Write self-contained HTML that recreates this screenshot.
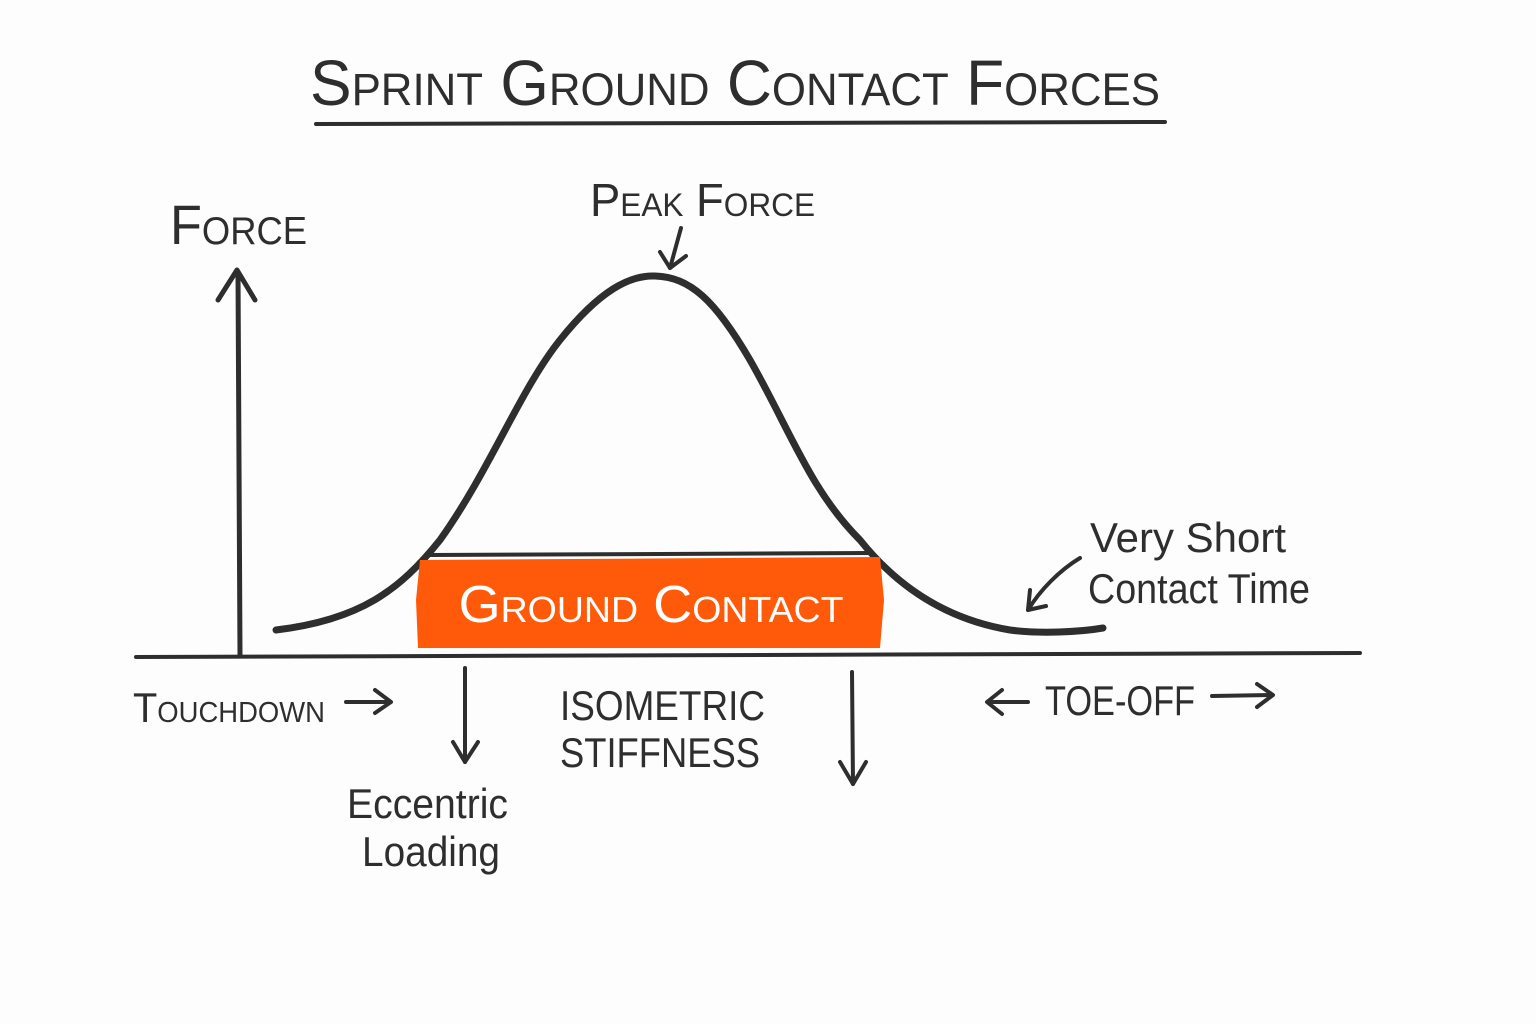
<!DOCTYPE html>
<html><head><meta charset="utf-8"><style>
html,body{margin:0;padding:0;background:#fdfdfd;}
svg{display:block;}
text{font-family:"Liberation Sans",sans-serif;fill:#2e2e2e;}
</style></head><body>
<svg width="1536" height="1024" viewBox="0 0 1536 1024" xmlns="http://www.w3.org/2000/svg">
<rect width="1536" height="1024" fill="#fdfdfd"/>
<g stroke="#2e2e2e" stroke-linecap="round" stroke-linejoin="round" fill="none">
<!-- title underline -->
<path d="M316 124 L1165 122" stroke-width="4"/>
<!-- y axis -->
<path d="M240 655 L238 272" stroke-width="5"/>
<path d="M218 300 L237 270 L255 300" stroke-width="5"/>
<!-- x axis -->
<path d="M136 657 L1360 653" stroke-width="4"/>
<!-- curve -->
<path d="M276 630 C360 620 400 590 440 540 C490 470 520 390 560 340 C600 290 630 275 655 276 C690 277 715 300 750 360 C790 430 810 490 860 540 C900 590 950 620 1010 630 C1040 634 1080 632 1103 628" stroke-width="7"/>
<!-- line over rect -->
<path d="M430 555 L870 553" stroke-width="4"/>
<!-- peak arrow -->
<path d="M681 228 L670 268" stroke-width="4"/>
<path d="M660 252 L670 268 L686 256" stroke-width="4"/>
<!-- contact time arrow -->
<path d="M1080 558 C1060 570 1040 590 1028 610" stroke-width="4"/>
<path d="M1030 590 L1028 610 L1046 606" stroke-width="4"/>
<!-- touchdown arrow -->
<path d="M346 702 L390 702" stroke-width="4"/>
<path d="M375 690 L391 702 L375 713" stroke-width="4"/>
<!-- eccentric down arrow -->
<path d="M465 668 L465 762" stroke-width="4"/>
<path d="M453 742 L465 762 L478 742" stroke-width="4"/>
<!-- isometric down arrow -->
<path d="M852 672 L853 784" stroke-width="4"/>
<path d="M840 762 L853 784 L866 762" stroke-width="4"/>
<!-- toe-off arrows -->
<path d="M988 702 L1028 702" stroke-width="4"/>
<path d="M1002 690 L987 702 L1002 714" stroke-width="4"/>
<path d="M1212 696 L1272 695" stroke-width="4"/>
<path d="M1257 684 L1273 695 L1257 707" stroke-width="4"/>
</g>
<!-- orange rect -->
<path d="M420 560 L880 557 L884 600 L880 648 L418 648 L416 600 Z" fill="#ff5a0a"/>
<text x="651" y="622" font-size="52" text-anchor="middle" style="fill:#fff;font-variant:small-caps" textLength="385" lengthAdjust="spacingAndGlyphs">Ground Contact</text>
<!-- title -->
<text x="735" y="105" font-size="64" text-anchor="middle" style="font-variant:small-caps" textLength="850" lengthAdjust="spacingAndGlyphs">Sprint Ground Contact Forces</text>
<text x="170" y="244" font-size="56" style="font-variant:small-caps" textLength="137" lengthAdjust="spacingAndGlyphs">Force</text>
<text x="590" y="216" font-size="46" style="font-variant:small-caps" textLength="225" lengthAdjust="spacingAndGlyphs">Peak Force</text>
<text x="1090" y="552" font-size="42" textLength="196" lengthAdjust="spacingAndGlyphs">Very Short</text>
<text x="1088" y="603" font-size="42" textLength="222" lengthAdjust="spacingAndGlyphs">Contact Time</text>
<text x="133" y="722" font-size="42" style="font-variant:small-caps" textLength="192" lengthAdjust="spacingAndGlyphs">Touchdown</text>
<text x="347" y="818" font-size="42" textLength="161" lengthAdjust="spacingAndGlyphs">Eccentric</text>
<text x="362" y="866" font-size="42" textLength="138" lengthAdjust="spacingAndGlyphs">Loading</text>
<text x="560" y="720" font-size="42" textLength="205" lengthAdjust="spacingAndGlyphs">ISOMETRIC</text>
<text x="560" y="767" font-size="42" textLength="200" lengthAdjust="spacingAndGlyphs">STIFFNESS</text>
<text x="1045" y="715" font-size="42" textLength="150" lengthAdjust="spacingAndGlyphs">TOE-OFF</text>
</svg>
</body></html>
